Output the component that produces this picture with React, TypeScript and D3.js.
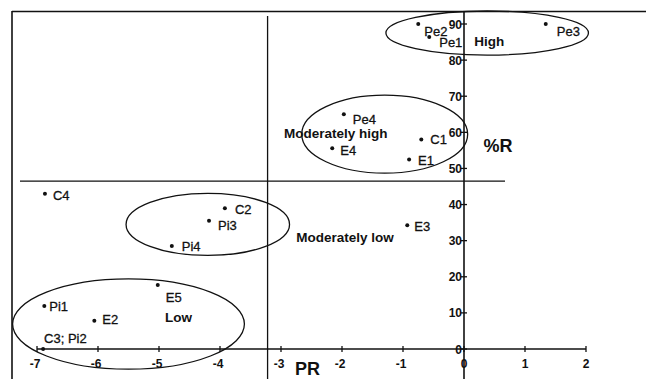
import { useEffect, useRef } from 'react'
import * as d3 from 'd3'

// sample labels, PR values, %R values
const names = ['Pe2', 'Pe1', 'Pe3', 'Pe4', 'C1', 'E4', 'E1', 'E3', 'C4', 'C2', 'Pi3', 'Pi4', 'E5', 'Pi1', 'E2', 'C3; Pi2']
const prValues = [-0.75, -0.57, 1.34, -1.97, -0.7, -2.16, -0.9, -0.93, -6.87, -3.92, -4.18, -4.79, -5.02, -6.88, -6.06, -6.9]
const rValues = [90, 86.4, 90, 65, 58, 55.6, 52.5, 34.3, 43, 39, 35.5, 28.5, 17.7, 11.9, 7.8, 0]
// label offsets in px (dx, dy baseline)
const labelDx = [6, 10, 11, 9, 9, 8, 9, 7, 8, 10, 9, 10, 8, 5, 8, 1]
const labelDy = [12, 10, 12, 10, 4, 7, 6, 6, 6, 6, 9, 5, 17, 5, 3, -6]

// group ellipses: centre (PR, %R) and radii in data units
const groupNames = ['High', 'Moderately high', 'Moderately low', 'Low']
const groupCx = [0.38, -1.3, -4.2, -5.5]
const groupCy = [87.5, 59.5, 34.5, 6.9]
const groupRx = [1.66, 1.36, 1.34, 1.9]
const groupRy = [6.1, 10.8, 8.6, 12.5]
// group label positions (PR, %R)
const groupLabelX = [0.17, -2.95, -2.75, -4.9]
const groupLabelY = [84, 58.3, 29.5, 7.5]

const xTicks = [-7, -6, -5, -4, -3, -2, -1, 0, 1, 2]
const yTicks = [0, 10, 20, 30, 40, 50, 60, 70, 80, 90]

// dividing lines
const prCut = -3.22
const rCut = 46.5

export default function App() {
  const svgRef = useRef<SVGSVGElement>(null)

  useEffect(() => {
    if (!svgRef.current) return
    const svg = d3.select(svgRef.current)
    svg.selectAll('*').remove()

    const width = 646
    const height = 379
    const font = 'Arial, "Liberation Sans", sans-serif'

    const x = d3.scaleLinear().domain([-7, 2]).range([37, 586])
    const y = d3.scaleLinear().domain([0, 90]).range([349, 24])

    svg.attr('width', width).attr('height', height)
    svg.append('rect').attr('width', width).attr('height', height).attr('fill', '#fff')

    const ink = '#111'

    // frame
    svg.append('line').attr('x1', 12).attr('x2', 646).attr('y1', 11.5).attr('y2', 11.5)
      .attr('stroke', ink).attr('stroke-width', 1.6)
    svg.append('line').attr('x1', 12).attr('x2', 12).attr('y1', 11).attr('y2', height)
      .attr('stroke', ink).attr('stroke-width', 1.6)

    // dividers
    svg.append('line').attr('x1', x(prCut)).attr('x2', x(prCut)).attr('y1', 16).attr('y2', height)
      .attr('stroke', ink).attr('stroke-width', 1.3)
    svg.append('line').attr('x1', 20).attr('x2', 505).attr('y1', y(rCut)).attr('y2', y(rCut))
      .attr('stroke', ink).attr('stroke-width', 1.3)

    // axes
    const x0 = x(0)
    const y0 = y(0)
    svg.append('line').attr('x1', x0).attr('x2', x0).attr('y1', 11).attr('y2', height)
      .attr('stroke', ink).attr('stroke-width', 1.6)
    svg.append('line').attr('x1', x(-7)).attr('x2', x(2)).attr('y1', y0).attr('y2', y0)
      .attr('stroke', ink).attr('stroke-width', 1.6)

    xTicks.forEach(t => {
      svg.append('line').attr('x1', x(t)).attr('x2', x(t)).attr('y1', y0 - 3).attr('y2', y0 + 3)
        .attr('stroke', ink).attr('stroke-width', 1.3)
      svg.append('text').attr('x', x(t) - (t < 0 ? 2 : 0)).attr('y', y0 + 19)
        .attr('text-anchor', 'middle').attr('font-family', font).attr('font-size', 12)
        .attr('font-weight', 'bold').attr('fill', ink).text(t)
    })
    yTicks.forEach(t => {
      svg.append('line').attr('x1', x0 - 3).attr('x2', x0 + 3).attr('y1', y(t)).attr('y2', y(t))
        .attr('stroke', ink).attr('stroke-width', 1.3)
      svg.append('text').attr('x', x0 - 2).attr('y', y(t) + 4.5)
        .attr('text-anchor', 'end').attr('font-family', font).attr('font-size', 12)
        .attr('font-weight', 'bold').attr('fill', ink).text(t)
    })

    svg.append('text').attr('x', 498).attr('y', 152).attr('font-family', font)
      .attr('font-size', 18).attr('font-weight', 'bold').attr('text-anchor', 'middle').attr('fill', ink).text('%R')
    svg.append('text').attr('x', 295).attr('y', 375).attr('font-family', font)
      .attr('font-size', 18).attr('font-weight', 'bold').attr('fill', ink).text('PR')

    // group ellipses
    groupNames.forEach((g, i) => {
      svg.append('ellipse')
        .attr('cx', x(groupCx[i])).attr('cy', y(groupCy[i]))
        .attr('rx', x(groupCx[i] + groupRx[i]) - x(groupCx[i]))
        .attr('ry', y(groupCy[i]) - y(groupCy[i] + groupRy[i]))
        .attr('fill', 'none').attr('stroke', ink).attr('stroke-width', 1.3)
      svg.append('text').attr('x', x(groupLabelX[i])).attr('y', y(groupLabelY[i]))
        .attr('font-family', font).attr('font-size', 13.5).attr('font-weight', 'bold')
        .attr('fill', ink).text(g)
    })

    // points
    names.forEach((n, i) => {
      const px = x(prValues[i])
      const py = y(rValues[i])
      svg.append('circle').attr('cx', px).attr('cy', py).attr('r', 2).attr('fill', ink)
      svg.append('text').attr('x', px + labelDx[i]).attr('y', py + labelDy[i])
        .attr('font-family', font).attr('font-size', 13).attr('fill', ink)
        .attr('stroke', ink).attr('stroke-width', 0.3).text(n)
    })
  }, [])

  return <svg ref={svgRef} style={{ position: 'absolute', left: 0, top: 0 }} />
}
